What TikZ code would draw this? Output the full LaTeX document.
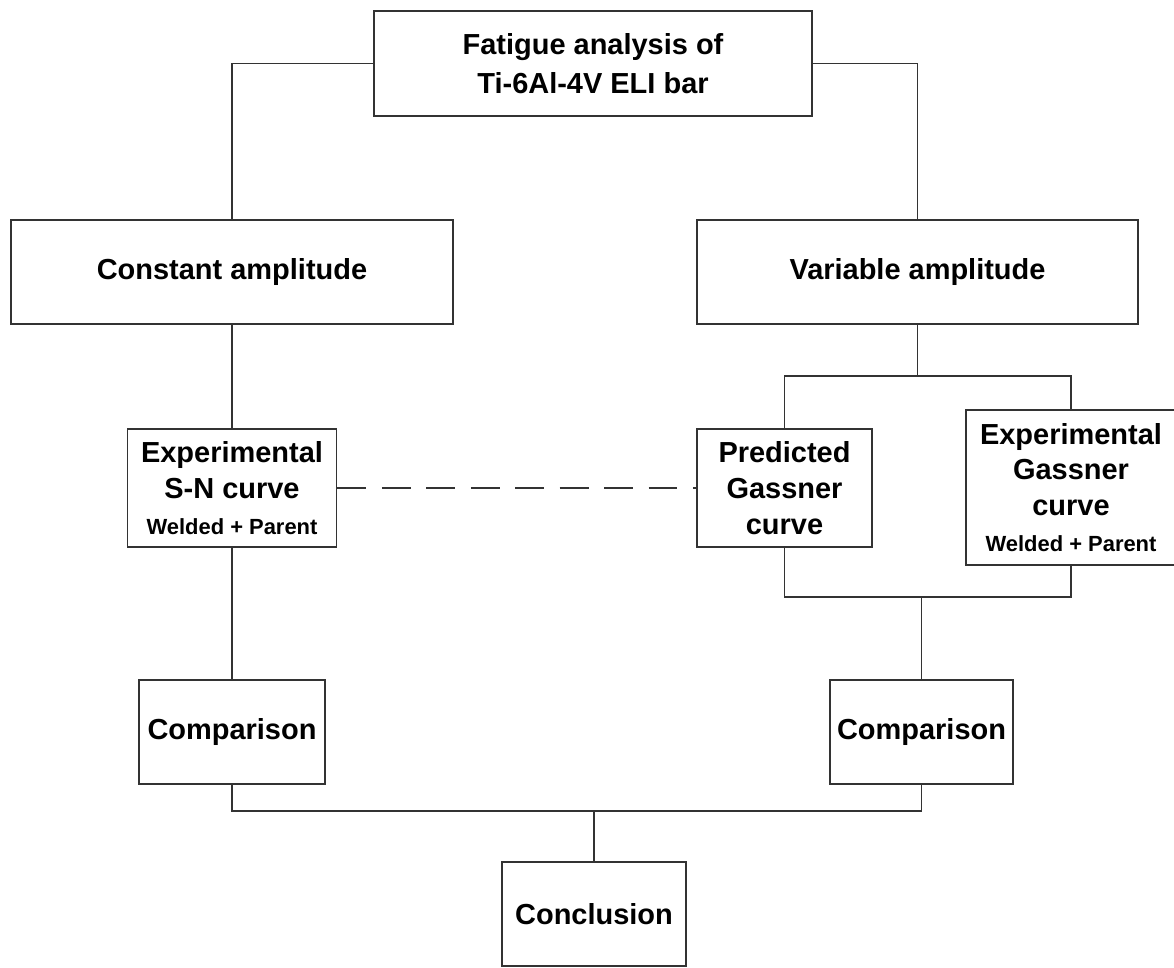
\documentclass[tikz,border=0pt]{standalone}
\usepackage{fontspec}
\setmainfont{Liberation Sans}
\usetikzlibrary{positioning,calc}

\newcommand{\subline}[1]{{\fontsize{15.6}{18}\selectfont #1}}

\begin{document}
\begin{tikzpicture}[
    x=0.025cm, y=-0.025cm,
    every node/.style={font=\bfseries\fontsize{20.6}{25.5}\selectfont},
    box/.style={draw=black!80, line width=1.3pt, fill=white, align=center, inner sep=0pt},
    link/.style={draw=black!80, line width=1.3pt},
    pending/.style={link, dash pattern=on 20.6pt off 11pt},
]
\useasboundingbox (0,0) rectangle (1174,967);

% =====================================================================
% Top: the study
% =====================================================================
\node[box, minimum width=10.95cm, minimum height=2.625cm,
      font=\bfseries\fontsize{20.6}{27.7}\selectfont]
    (top) at (593,63.5) {Fatigue analysis of\\Ti-6Al-4V ELI bar};

% =====================================================================
% Left branch: constant amplitude
% =====================================================================
\node[box, minimum width=11.05cm, minimum height=2.6cm] (const) at (232,272) {Constant amplitude};
\node[box, minimum width=5.225cm, minimum height=2.95cm] (expSN) at (232,488)
    {Experimental\\S-N curve\\\subline{Welded + Parent}};
\node[box, minimum width=4.65cm, minimum height=2.6cm] (cmpL) at (232,732) {Comparison};

% =====================================================================
% Right branch: variable amplitude
% =====================================================================
\node[box, minimum width=11.025cm, minimum height=2.6cm] (var) at (917.5,272) {Variable amplitude};
\node[box, minimum width=4.375cm, minimum height=2.95cm] (pred) at (784.5,488)
    {Predicted\\Gassner\\curve};
\node[box, minimum width=5.25cm, minimum height=3.875cm] (expG) at (1071,487.5)
    {Experimental\\Gassner\\curve\\\subline{Welded + Parent}};
\node[box, minimum width=4.575cm, minimum height=2.6cm] (cmpR) at (921.5,732) {Comparison};

% Bottom
\node[box, minimum width=4.6cm, minimum height=2.6cm] (concl) at (594,914) {Conclusion};

% =====================================================================
% Connectors
% =====================================================================
\draw[link] (top.west) -| (const.north);
\draw[link] (top.east) -| (var.north);
\draw[link] (const.south) -- (expSN.north);
\draw[link] (expSN.south) -- (cmpL.north);

% split under variable amplitude, join above the right comparison
\coordinate (splitV) at (var.south |- 0,376);
\coordinate (joinV) at (cmpR.north |- 0,597);
\draw[link] (var.south) -- (splitV);
\draw[link] (pred.north) |- (splitV) -| (expG.north);
\draw[link] (pred.south) |- (joinV) -| (expG.south);
\draw[link] (joinV) -- (cmpR.north);

% both comparisons into the conclusion
\coordinate (joinC) at (concl.north |- 0,811);
\draw[link] (cmpL.south) |- (joinC) -| (cmpR.south);
\draw[link] (joinC) -- (concl.north);

% S-N curve feeds the Gassner prediction
\draw[pending] (expSN.east) -- (pred.west);
\end{tikzpicture}
\end{document}
